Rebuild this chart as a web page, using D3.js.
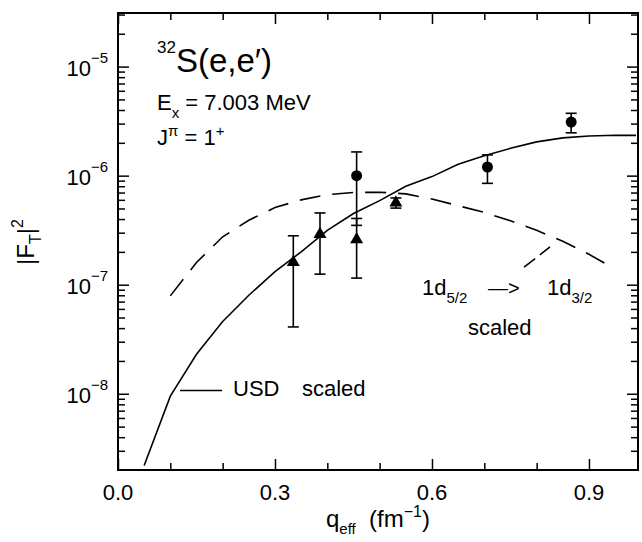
<!DOCTYPE html>
<html>
<head>
<meta charset="utf-8">
<script src="https://cdn.jsdelivr.net/npm/d3@7"></script>
<style>
  body { margin: 0; background: #fff; }
  svg text { font-family: "Liberation Sans", Arial, sans-serif; fill: #000; }
  .tick line { stroke: #000; stroke-width: 1.5; }
</style>
</head>
<body>
<svg id="chart"></svg>
<script>
// USD calculation, scaled (solid line)
const usdQ = [0.05, 0.10, 0.15, 0.20, 0.25, 0.30, 0.35, 0.40, 0.45, 0.50, 0.55, 0.60, 0.65, 0.70, 0.75, 0.80, 0.85, 0.90, 0.95, 0.99];
const usdF = [2.2e-9, 9.5e-9, 2.3e-8, 4.6e-8, 8.0e-8, 1.32e-7, 2.0e-7, 3.15e-7, 4.5e-7, 5.9e-7, 8.0e-7, 9.8e-7, 1.27e-6, 1.52e-6, 1.78e-6, 2.04e-6, 2.22e-6, 2.31e-6, 2.35e-6, 2.34e-6];

// 1d5/2 -> 1d3/2 calculation, scaled (dashed line)
const dQ = [0.10, 0.15, 0.20, 0.25, 0.30, 0.35, 0.40, 0.45, 0.50, 0.55, 0.60, 0.65, 0.70, 0.75, 0.80, 0.85, 0.90, 0.94];
const dF = [7.9e-8, 1.6e-7, 2.75e-7, 3.9e-7, 5.1e-7, 6.0e-7, 6.7e-7, 7.0e-7, 7.05e-7, 6.8e-7, 6.1e-7, 5.3e-7, 4.6e-7, 3.85e-7, 3.15e-7, 2.5e-7, 1.9e-7, 1.48e-7];

// measured form factors (triangles and circles) with errors
const triQ = [0.335, 0.386, 0.456, 0.531];
const triF = [1.61e-7, 2.9e-7, 2.6e-7, 5.64e-7];
const triErr = [1.2e-7, 1.65e-7, 1.45e-7, 0.6e-7];
const circQ = [0.456, 0.706, 0.866];
const circF = [1.0e-6, 1.2e-6, 3.1e-6];
const circErr = [0.65e-6, 0.35e-6, 0.63e-6];

// ticks
const xMajor = [0, 0.3, 0.6, 0.9];
const xMinor = [0.1, 0.2, 0.4, 0.5, 0.7, 0.8];
const xTickLabels = ['0.0', '0.3', '0.6', '0.9'];
const yDecades = [1e-8, 1e-7, 1e-6, 1e-5];
const yExponents = ['\u22128', '\u22127', '\u22126', '\u22125'];

// legend sample lines, in data units
const usdKeyQ = [0.1185, 0.199];
const usdKeyF = [1.07e-8, 1.07e-8];
const dKeyQ = [0.776, 0.8255];
const dKeyF = [1.45e-7, 2.22e-7];

class FormFactorChart {

  constructor(_config) {
    this.config = {
      parentElement: _config.parentElement,
      containerWidth: 642,
      containerHeight: 542,
      margin: {top: 13, right: 4, bottom: 72, left: 118},
      majorTick: 11,
      minorTick: 7,
      dash: '21,12'
    };
    this.initVis();
  }

  initVis() {
    let vis = this;

    vis.width = vis.config.containerWidth - vis.config.margin.left - vis.config.margin.right;
    vis.height = vis.config.containerHeight - vis.config.margin.top - vis.config.margin.bottom;

    vis.xScale = d3.scaleLinear()
      .domain([0, 0.9937])
      .range([0, vis.width]);

    vis.yScale = d3.scaleLog()
      .domain([2e-9, 3.1e-5])
      .range([vis.height, 0]);

    vis.svg = d3.select(vis.config.parentElement)
      .attr('width', vis.config.containerWidth)
      .attr('height', vis.config.containerHeight);

    vis.chart = vis.svg.append('g')
      .attr('transform', `translate(${vis.config.margin.left},${vis.config.margin.top})`);

    vis.chart.append('clipPath')
      .attr('id', 'plot-clip')
      .append('rect')
        .attr('width', vis.width)
        .attr('height', vis.height);

    // minor y ticks: 2..9 times each decade inside the domain
    let [yMin, yMax] = vis.yScale.domain();
    vis.yMinor = [];
    for (let e = -9; e <= -5; e++) {
      for (let k = 2; k <= 9; k++) {
        let v = k * Math.pow(10, e);
        if (v > yMin && v < yMax) vis.yMinor.push(v);
      }
    }

    vis.renderAxes();
    vis.renderVis();
    vis.renderLabels();
  }

  renderAxes() {
    let vis = this;
    const mk = (axis, values, size) => axis.tickValues(values).tickSizeInner(-size).tickSizeOuter(0).tickFormat('');

    const axes = [
      [d3.axisBottom(vis.xScale), xMajor, vis.config.majorTick, `translate(0,${vis.height})`],
      [d3.axisBottom(vis.xScale), xMinor, vis.config.minorTick, `translate(0,${vis.height})`],
      [d3.axisTop(vis.xScale), xMajor, vis.config.majorTick, null],
      [d3.axisTop(vis.xScale), xMinor, vis.config.minorTick, null],
      [d3.axisLeft(vis.yScale), yDecades, vis.config.majorTick, null],
      [d3.axisLeft(vis.yScale), vis.yMinor, vis.config.minorTick, null],
      [d3.axisRight(vis.yScale), yDecades, vis.config.majorTick, `translate(${vis.width},0)`],
      [d3.axisRight(vis.yScale), vis.yMinor, vis.config.minorTick, `translate(${vis.width},0)`]
    ];
    axes.forEach(([axis, values, size, tr]) => {
      let g = vis.chart.append('g').call(mk(axis, values, size));
      if (tr) g.attr('transform', tr);
      g.select('.domain').remove();
    });

    // frame
    vis.chart.append('rect')
      .attr('width', vis.width)
      .attr('height', vis.height)
      .attr('fill', 'none')
      .attr('stroke', '#000')
      .attr('stroke-width', 2);

    // x tick labels
    vis.chart.selectAll('.x-label')
      .data(xMajor)
      .join('text')
        .attr('class', 'x-label')
        .attr('x', d => vis.xScale(d))
        .attr('y', vis.height + 30)
        .attr('text-anchor', 'middle')
        .style('font-size', '22px')
        .text((d, i) => xTickLabels[i]);

    // y tick labels, 10 with superscript exponent
    const yl = vis.chart.selectAll('.y-label')
      .data(yDecades)
      .join('text')
        .attr('class', 'y-label')
        .attr('x', -10)
        .attr('y', d => vis.yScale(d) + 9)
        .attr('text-anchor', 'end')
        .style('font-size', '22px');
    yl.append('tspan').text('10');
    yl.append('tspan')
      .attr('dy', -13)
      .style('font-size', '15px')
      .text((d, i) => yExponents[i]);
  }

  renderVis() {
    let vis = this;

    const line = d3.line()
      .x(d => vis.xScale(d[0]))
      .y(d => vis.yScale(d[1]));

    const plot = vis.chart.append('g').attr('clip-path', 'url(#plot-clip)');

    plot.append('path')
      .datum(d3.zip(usdQ, usdF))
      .attr('fill', 'none')
      .attr('stroke', '#000')
      .attr('stroke-width', 1.6)
      .attr('d', line);

    plot.append('path')
      .datum(d3.zip(dQ, dF))
      .attr('fill', 'none')
      .attr('stroke', '#000')
      .attr('stroke-width', 1.6)
      .attr('stroke-dasharray', vis.config.dash)
      .attr('d', line);

    // legend sample lines
    plot.append('path')
      .datum(d3.zip(usdKeyQ, usdKeyF))
      .attr('fill', 'none')
      .attr('stroke', '#000')
      .attr('stroke-width', 1.6)
      .attr('d', line);

    plot.append('path')
      .datum(d3.zip(dKeyQ, dKeyF))
      .attr('fill', 'none')
      .attr('stroke', '#000')
      .attr('stroke-width', 1.6)
      .attr('stroke-dasharray', '14,6')
      .attr('d', line);

    // data points with error bars
    const points = [
      ...triQ.map((q, i) => ({q: q, f: triF[i], err: triErr[i], shape: d3.symbolTriangle, size: 73})),
      ...circQ.map((q, i) => ({q: q, f: circF[i], err: circErr[i], shape: d3.symbolCircle, size: 95}))
    ];

    const bars = plot.selectAll('.err')
      .data(points)
      .join('g')
        .attr('class', 'err')
        .attr('stroke', '#000')
        .attr('stroke-width', 1.6);
    bars.append('line')
      .attr('x1', d => vis.xScale(d.q))
      .attr('x2', d => vis.xScale(d.q))
      .attr('y1', d => vis.yScale(d.f + d.err))
      .attr('y2', d => vis.yScale(d.f - d.err));
    bars.selectAll('.cap')
      .data(d => [d.f + d.err, d.f - d.err].map(v => ({q: d.q, v: v})))
      .join('line')
        .attr('class', 'cap')
        .attr('x1', d => vis.xScale(d.q) - 5.5)
        .attr('x2', d => vis.xScale(d.q) + 5.5)
        .attr('y1', d => vis.yScale(d.v))
        .attr('y2', d => vis.yScale(d.v));

    plot.selectAll('.marker')
      .data(points)
      .join('path')
        .attr('class', 'marker')
        .attr('transform', d => `translate(${vis.xScale(d.q)},${vis.yScale(d.f)})`)
        .attr('d', d => d3.symbol().type(d.shape).size(d.size)())
        .attr('fill', '#000');
  }

  renderLabels() {
    let vis = this;

    // reaction label
    const title = vis.chart.append('text')
      .attr('x', 39)
      .attr('y', 59);
    title.append('tspan').attr('dy', -19).style('font-size', '17px').text('32');
    title.append('tspan').attr('dy', 19).style('font-size', '33px').text('S(e,e\u2032)');

    const ex = vis.chart.append('text')
      .attr('x', 39)
      .attr('y', 97)
      .style('font-size', '22px');
    ex.append('tspan').text('E');
    ex.append('tspan').attr('dy', 8).style('font-size', '15px').text('x');
    ex.append('tspan').attr('dy', -8).text(' = 7.003 MeV');

    const jp = vis.chart.append('text')
      .attr('x', 39)
      .attr('y', 132)
      .style('font-size', '22px');
    jp.append('tspan').text('J');
    jp.append('tspan').attr('dy', -9).style('font-size', '15px').text('\u03c0');
    jp.append('tspan').attr('dy', 9).text(' = 1');
    jp.append('tspan').attr('dy', -9).style('font-size', '15px').text('+');

    // dashed curve label
    const sub = (x, y, main, s) => {
      const t = vis.chart.append('text').attr('x', x).attr('y', y).style('font-size', '22px');
      t.append('tspan').text(main);
      t.append('tspan').attr('dy', 8).style('font-size', '15px').text(s);
    };
    sub(304, 282, '1d', '5/2');
    sub(429, 282, '1d', '3/2');
    vis.chart.append('text')
      .attr('x', 370)
      .attr('y', 282)
      .style('font-size', '20px')
      .text('\u2014>');
    vis.chart.append('text')
      .attr('x', 350)
      .attr('y', 322)
      .style('font-size', '22px')
      .text('scaled');

    // solid curve label
    vis.chart.append('text')
      .attr('x', 115)
      .attr('y', 383)
      .style('font-size', '22px')
      .text('USD');
    vis.chart.append('text')
      .attr('x', 184)
      .attr('y', 383)
      .style('font-size', '22px')
      .text('scaled');

    // axis titles
    const xt = vis.chart.append('text')
      .attr('x', vis.width / 2)
      .attr('y', vis.height + 57)
      .attr('text-anchor', 'middle')
      .style('font-size', '24px');
    xt.append('tspan').text('q');
    xt.append('tspan').attr('dy', 7).style('font-size', '15px').text('eff');
    xt.append('tspan').attr('dy', -7).text('\u00a0\u00a0(fm');
    xt.append('tspan').attr('dy', -10).style('font-size', '16px').text('\u22121');
    xt.append('tspan').attr('dy', 10).text(')');

    const yt = vis.svg.append('text')
      .attr('transform', 'translate(34,242) rotate(-90)')
      .attr('text-anchor', 'middle')
      .style('font-size', '24px');
    yt.append('tspan').text('|F');
    yt.append('tspan').attr('dy', 7).style('font-size', '16px').text('T');
    yt.append('tspan').attr('dy', -7).text('|');
    yt.append('tspan').attr('dy', -11).style('font-size', '16px').text('2');
  }
}

new FormFactorChart({parentElement: '#chart'});
</script>
</body>
</html>
